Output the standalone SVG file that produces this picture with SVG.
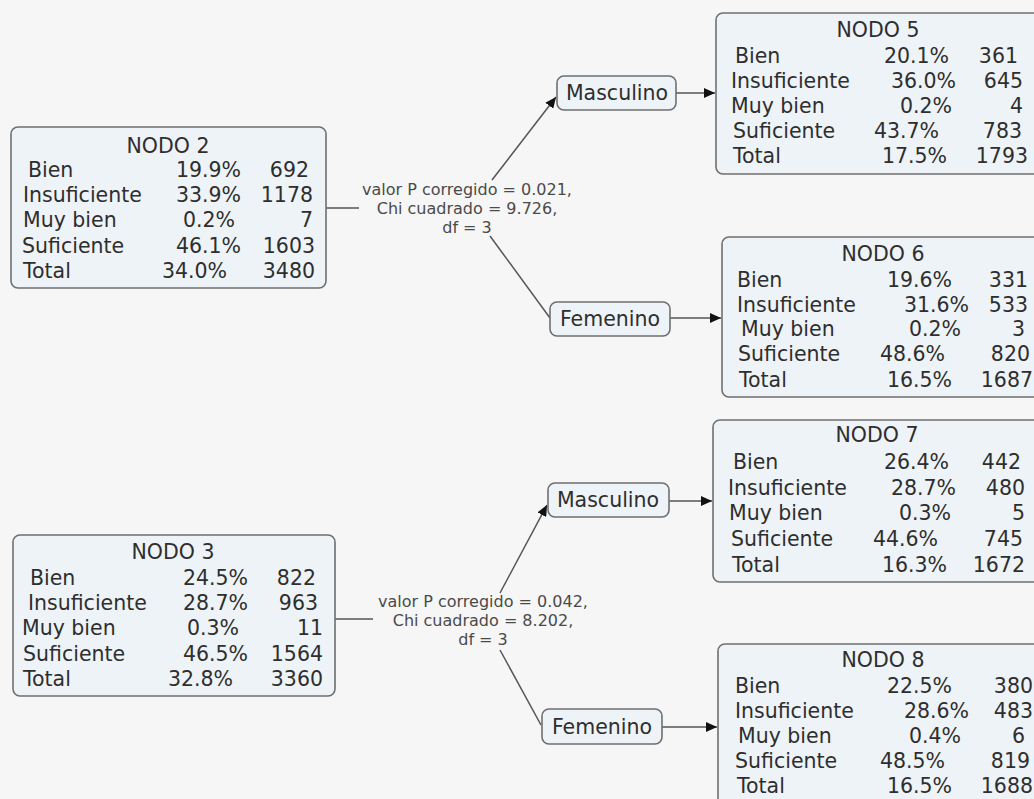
<svg xmlns="http://www.w3.org/2000/svg" width="1034" height="799" viewBox="0 0 1034 799">
  <style>
    .bg { fill: #f6f6f6; }
    .box { fill: #eef3f7; stroke: #6f6f6f; stroke-width: 1.6; }
    .t { font-family: "DejaVu Sans", Verdana, sans-serif; font-size: 20.5px; fill: #2e2e2e; }
    .e { text-anchor: end; }
    .m { text-anchor: middle; }
    .lbl { font-family: "DejaVu Sans", Verdana, sans-serif; font-size: 16px; fill: #4a4a4a; text-anchor: middle; }
    .wire { fill: none; stroke: #555555; stroke-width: 1.5; }
  </style>
  <defs>
    <marker id="arrow" markerUnits="userSpaceOnUse" markerWidth="12" markerHeight="10" refX="11" refY="5" orient="auto">
      <path d="M0,0 L11,5 L0,10 z" fill="#111111"/>
    </marker>
  </defs>

  <rect class="bg" x="0" y="0" width="1034" height="799"/>

  <!-- connectors -->
  <g id="connectors">
    <line class="wire" x1="326" y1="208" x2="359" y2="208"/>
    <line class="wire" x1="492" y1="180" x2="556" y2="97" marker-end="url(#arrow)"/>
    <line class="wire" x1="490" y1="236" x2="550" y2="318"/>
    <line class="wire" x1="676" y1="93" x2="715" y2="93" marker-end="url(#arrow)"/>
    <line class="wire" x1="670" y1="318" x2="721" y2="318" marker-end="url(#arrow)"/>

    <line class="wire" x1="335" y1="619" x2="373" y2="619"/>
    <line class="wire" x1="500" y1="593" x2="547" y2="505" marker-end="url(#arrow)"/>
    <line class="wire" x1="500" y1="650" x2="541" y2="725"/>
    <line class="wire" x1="669" y1="501" x2="712" y2="501" marker-end="url(#arrow)"/>
    <line class="wire" x1="662" y1="727" x2="717" y2="727" marker-end="url(#arrow)"/>

    <text class="lbl" x="467" y="195">valor P corregido = 0.021,</text>
    <text class="lbl" x="467" y="214">Chi cuadrado = 9.726,</text>
    <text class="lbl" x="467" y="233">df = 3</text>

    <text class="lbl" x="483" y="607">valor P corregido = 0.042,</text>
    <text class="lbl" x="483" y="626">Chi cuadrado = 8.202,</text>
    <text class="lbl" x="483" y="645">df = 3</text>
  </g>

  <!-- NODO 2 -->
  <g id="nodo2">
    <rect class="box" x="11" y="127" width="315" height="161" rx="7"/>
    <text class="t m" x="168" y="153">NODO 2</text>
    <text class="t" x="28" y="177">Bien</text>
    <text class="t" x="23" y="202">Insuficiente</text>
    <text class="t" x="23" y="227">Muy bien</text>
    <text class="t" x="22" y="253">Suficiente</text>
    <text class="t" x="23" y="278">Total</text>
    <text class="t e" x="241" y="177">19.9%</text>
    <text class="t e" x="241" y="202">33.9%</text>
    <text class="t e" x="235" y="227">0.2%</text>
    <text class="t e" x="241" y="253">46.1%</text>
    <text class="t e" x="227" y="278">34.0%</text>
    <text class="t e" x="309" y="177">692</text>
    <text class="t e" x="313" y="202">1178</text>
    <text class="t e" x="313" y="227">7</text>
    <text class="t e" x="315" y="253">1603</text>
    <text class="t e" x="315" y="278">3480</text>
  </g>

  <!-- NODO 3 -->
  <g id="nodo3">
    <rect class="box" x="13" y="535" width="322" height="161" rx="7"/>
    <text class="t m" x="173" y="559">NODO 3</text>
    <text class="t" x="30" y="585">Bien</text>
    <text class="t" x="28" y="610">Insuficiente</text>
    <text class="t" x="22" y="635">Muy bien</text>
    <text class="t" x="23" y="661">Suficiente</text>
    <text class="t" x="23" y="686">Total</text>
    <text class="t e" x="248" y="585">24.5%</text>
    <text class="t e" x="248" y="610">28.7%</text>
    <text class="t e" x="239" y="635">0.3%</text>
    <text class="t e" x="248" y="661">46.5%</text>
    <text class="t e" x="233" y="686">32.8%</text>
    <text class="t e" x="316" y="585">822</text>
    <text class="t e" x="318" y="610">963</text>
    <text class="t e" x="323" y="635">11</text>
    <text class="t e" x="323" y="661">1564</text>
    <text class="t e" x="323" y="686">3360</text>
  </g>

  <!-- split labels -->
  <g id="masc1">
    <rect class="box" x="557" y="76" width="119" height="34" rx="7"/>
    <text class="t m" x="617" y="100">Masculino</text>
  </g>
  <g id="fem1">
    <rect class="box" x="550" y="302" width="120" height="34" rx="7"/>
    <text class="t m" x="610" y="326">Femenino</text>
  </g>
  <g id="masc2">
    <rect class="box" x="548" y="483" width="121" height="34" rx="7"/>
    <text class="t m" x="608" y="507">Masculino</text>
  </g>
  <g id="fem2">
    <rect class="box" x="542" y="709" width="120" height="35" rx="7"/>
    <text class="t m" x="602" y="734">Femenino</text>
  </g>

  <!-- NODO 5 -->
  <g id="nodo5">
    <rect class="box" x="716" y="13" width="330" height="161" rx="7"/>
    <text class="t m" x="878" y="37">NODO 5</text>
    <text class="t" x="735" y="63">Bien</text>
    <text class="t" x="731" y="88">Insuficiente</text>
    <text class="t" x="731" y="113">Muy bien</text>
    <text class="t" x="733" y="138">Suficiente</text>
    <text class="t" x="733" y="163">Total</text>
    <text class="t e" x="949" y="63">20.1%</text>
    <text class="t e" x="956" y="88">36.0%</text>
    <text class="t e" x="952" y="113">0.2%</text>
    <text class="t e" x="939" y="138">43.7%</text>
    <text class="t e" x="947" y="163">17.5%</text>
    <text class="t e" x="1018" y="63">361</text>
    <text class="t e" x="1023" y="88">645</text>
    <text class="t e" x="1023" y="113">4</text>
    <text class="t e" x="1022" y="138">783</text>
    <text class="t e" x="1028" y="163">1793</text>
  </g>

  <!-- NODO 6 -->
  <g id="nodo6">
    <rect class="box" x="722" y="237" width="330" height="160" rx="7"/>
    <text class="t m" x="883" y="261">NODO 6</text>
    <text class="t" x="737" y="287">Bien</text>
    <text class="t" x="737" y="312">Insuficiente</text>
    <text class="t" x="741" y="336">Muy bien</text>
    <text class="t" x="738" y="361">Suficiente</text>
    <text class="t" x="739" y="387">Total</text>
    <text class="t e" x="952" y="287">19.6%</text>
    <text class="t e" x="969" y="312">31.6%</text>
    <text class="t e" x="961" y="336">0.2%</text>
    <text class="t e" x="945" y="361">48.6%</text>
    <text class="t e" x="952" y="387">16.5%</text>
    <text class="t e" x="1028" y="287">331</text>
    <text class="t e" x="1028" y="312">533</text>
    <text class="t e" x="1025" y="336">3</text>
    <text class="t e" x="1030" y="361">820</text>
    <text class="t e" x="1033" y="387">1687</text>
  </g>

  <!-- NODO 7 -->
  <g id="nodo7">
    <rect class="box" x="713" y="420" width="330" height="162" rx="7"/>
    <text class="t m" x="877" y="442">NODO 7</text>
    <text class="t" x="733" y="469">Bien</text>
    <text class="t" x="728" y="495">Insuficiente</text>
    <text class="t" x="729" y="520">Muy bien</text>
    <text class="t" x="731" y="546">Suficiente</text>
    <text class="t" x="732" y="572">Total</text>
    <text class="t e" x="949" y="469">26.4%</text>
    <text class="t e" x="956" y="495">28.7%</text>
    <text class="t e" x="951" y="520">0.3%</text>
    <text class="t e" x="938" y="546">44.6%</text>
    <text class="t e" x="947" y="572">16.3%</text>
    <text class="t e" x="1021" y="469">442</text>
    <text class="t e" x="1025" y="495">480</text>
    <text class="t e" x="1025" y="520">5</text>
    <text class="t e" x="1023" y="546">745</text>
    <text class="t e" x="1025" y="572">1672</text>
  </g>

  <!-- NODO 8 -->
  <g id="nodo8">
    <rect class="box" x="718" y="644" width="330" height="170" rx="7"/>
    <text class="t m" x="883" y="667">NODO 8</text>
    <text class="t" x="735" y="693">Bien</text>
    <text class="t" x="735" y="718">Insuficiente</text>
    <text class="t" x="738" y="743">Muy bien</text>
    <text class="t" x="735" y="768">Suficiente</text>
    <text class="t" x="737" y="793">Total</text>
    <text class="t e" x="952" y="693">22.5%</text>
    <text class="t e" x="969" y="718">28.6%</text>
    <text class="t e" x="961" y="743">0.4%</text>
    <text class="t e" x="945" y="768">48.5%</text>
    <text class="t e" x="952" y="793">16.5%</text>
    <text class="t e" x="1033" y="693">380</text>
    <text class="t e" x="1033" y="718">483</text>
    <text class="t e" x="1025" y="743">6</text>
    <text class="t e" x="1030" y="768">819</text>
    <text class="t e" x="1033" y="793">1688</text>
  </g>
</svg>
